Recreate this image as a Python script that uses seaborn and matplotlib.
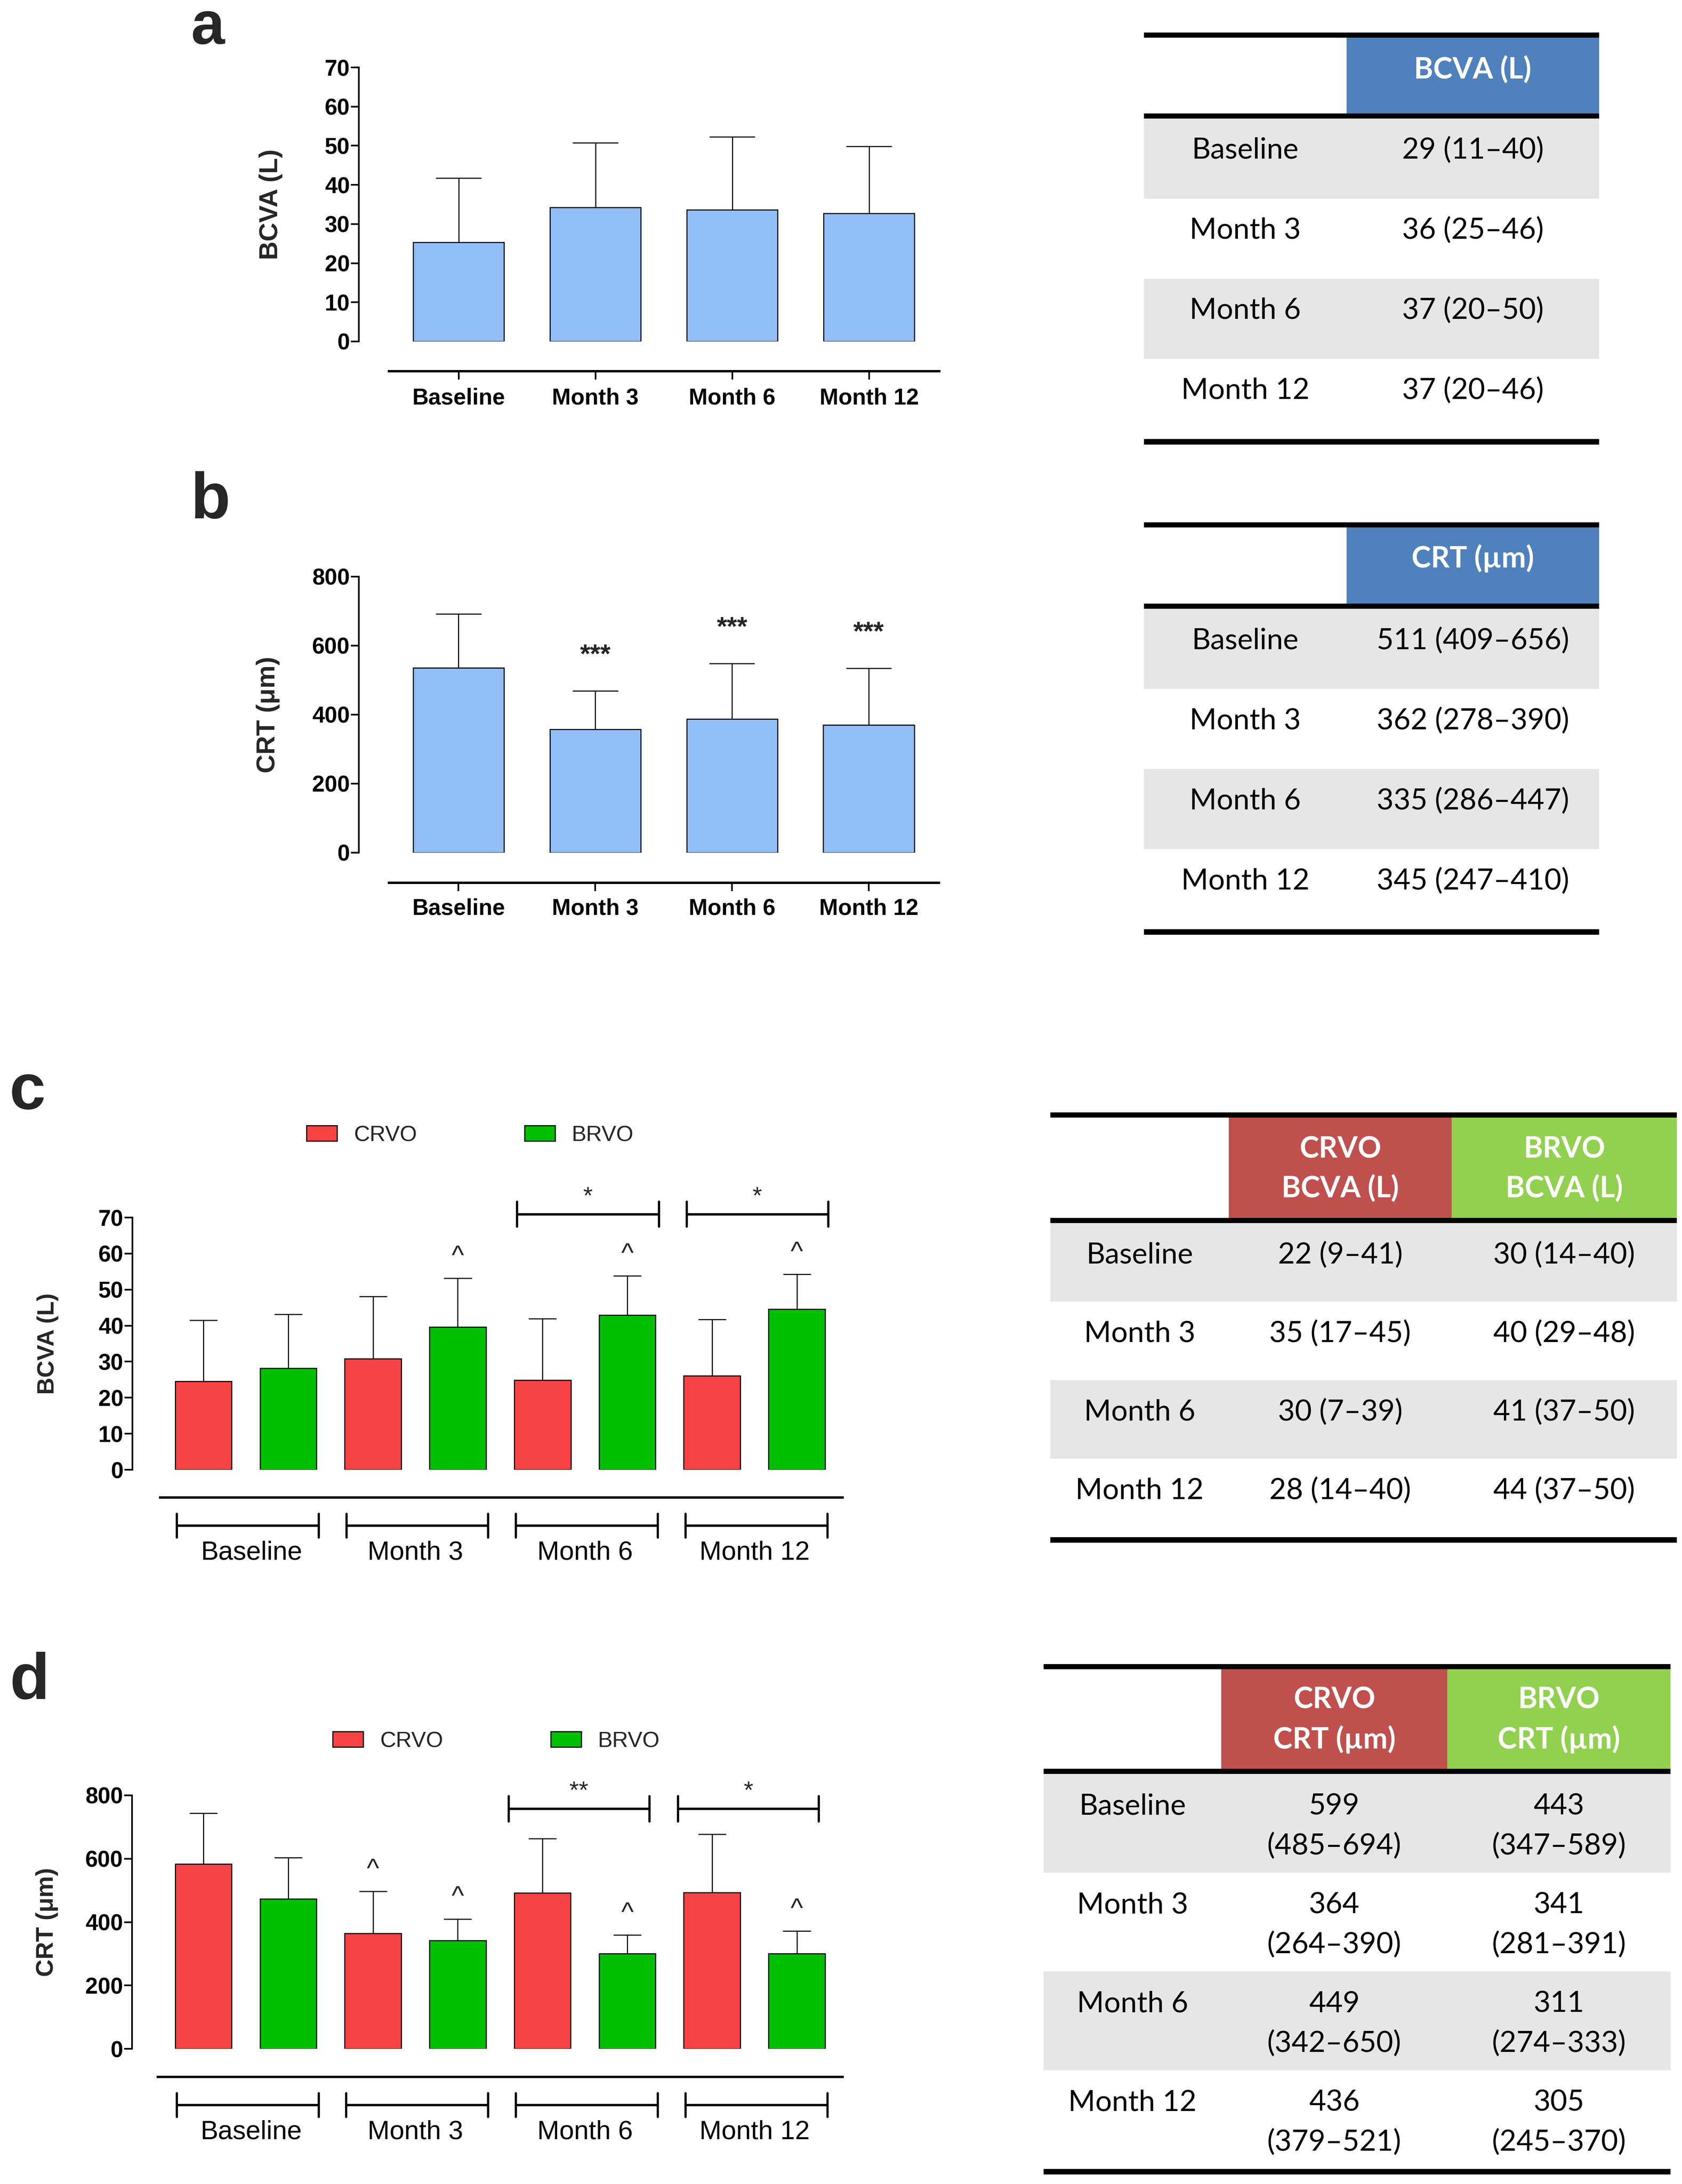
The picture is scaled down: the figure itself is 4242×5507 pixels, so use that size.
import matplotlib
matplotlib.use("Agg")
import matplotlib.pyplot as plt
import numpy as np
import pandas as pd
import seaborn as sns
from matplotlib.patches import Rectangle
from matplotlib.transforms import blended_transform_factory, ScaledTranslation

# ---------------- data ----------------
timepoints = ["Baseline", "Month 3", "Month 6", "Month 12"]
groups = ["CRVO", "BRVO"]

# a: all eyes, BCVA (mean and upper SD)
bcva_mean = [25.3, 34.2, 33.6, 32.7]
bcva_sd = [16.4, 16.6, 18.7, 17.1]

# b: all eyes, CRT
crt_mean = [536, 357, 387, 370]
crt_sd = [156, 112, 161, 164]
crt_marks = ["", "***", "***", "***"]

# c: BCVA by occlusion type
crvo_bcva_mean = [24.5, 30.8, 24.9, 26.1]
crvo_bcva_sd = [17.0, 17.3, 17.0, 15.6]
brvo_bcva_mean = [28.2, 39.6, 42.9, 44.6]
brvo_bcva_sd = [14.9, 13.6, 10.9, 9.7]
crvo_bcva_marks = ["", "", "", ""]
brvo_bcva_marks = ["", "^", "^", "^"]
bcva_between = ["", "", "*", "*"]
bcva_between_y = 70.9

# d: CRT by occlusion type
crvo_crt_mean = [583, 364, 492, 493]
crvo_crt_sd = [161, 133, 172, 184]
brvo_crt_mean = [473, 342, 301, 301]
brvo_crt_sd = [131, 68, 58, 71]
crvo_crt_marks = ["", "^", "", ""]
brvo_crt_marks = ["", "^", "^", "^"]
crt_between = ["", "", "**", "*"]
crt_between_y = 757

# tables: median (IQR)
table_a_cells = ["29 (11–40)", "36 (25–46)", "37 (20–50)", "37 (20–46)"]
table_b_cells = ["511 (409–656)", "362 (278–390)", "335 (286–447)", "345 (247–410)"]
table_c_crvo = ["22 (9–41)", "35 (17–45)", "30 (7–39)", "28 (14–40)"]
table_c_brvo = ["30 (14–40)", "40 (29–48)", "41 (37–50)", "44 (37–50)"]
table_d_crvo = ["599\n(485–694)", "364\n(264–390)", "449\n(342–650)", "436\n(379–521)"]
table_d_brvo = ["443\n(347–589)", "341\n(281–391)", "311\n(274–333)", "305\n(245–370)"]

# ---------------- style ----------------
W, H = 4242, 5507
LIGHT_BLUE = "#92BFF8"
BAR_RED = "#F74343"
BAR_GREEN = "#00BE00"
TAB_BLUE = "#4F81BD"
TAB_RED = "#C0504D"
TAB_GREEN = "#92D050"
TAB_GREY = "#E7E6E6"

sns.set_style("white")
plt.rcParams["font.family"] = ["Liberation Sans", "DejaVu Sans"]
TABLE_FONT = ["Lato", "DejaVu Sans"]
TAB_FS = 53

fig = plt.figure(figsize=(W / 100, H / 100), dpi=100)
fig.patch.set_facecolor("white")

canvas = fig.add_axes([0, 0, 1, 1])
canvas.set_xlim(0, W)
canvas.set_ylim(H, 0)
canvas.axis("off")


def px_axes(left, top, right, bottom):
    return fig.add_axes([left / W, 1 - bottom / H, (right - left) / W, (bottom - top) / H])


def px(v):
    # pixels -> points at 100 dpi
    return v * 0.72


def style_axes(ax, ylim, yticks, xlim, line_start, line_off, ylabel, ylabel_x, ylabel_fs):
    ax.set_xlim(xlim)
    ax.set_ylim(ylim)
    ax.set_yticks(yticks)
    ax.set_facecolor("none")
    for s in ["top", "right"]:
        ax.spines[s].set_visible(False)
    ax.spines["left"].set_linewidth(3.0)
    ax.spines["left"].set_color("black")
    ax.spines["bottom"].set_color("black")
    ax.spines["bottom"].set_position(("outward", px(line_off)))
    ax.spines["bottom"].set_bounds(line_start, xlim[1])
    ax.spines["bottom"].set_linewidth(4.3)
    ax.tick_params(axis="y", direction="out", length=14.5, width=3.0, pad=2,
                   labelsize=41, left=True, colors="black")
    for lbl in ax.get_yticklabels():
        lbl.set_fontweight("bold")
    ax.set_xlabel("")
    ax.set_ylabel(ylabel, fontsize=ylabel_fs, fontweight="bold")
    ax.yaxis.set_label_coords(ylabel_x, 0.5)


def draw_sd(ax, xs, means, sds, cap_half):
    xs = np.asarray(xs, dtype=float)
    tops = np.add(means, sds)
    ax.vlines(xs, means, tops, color="black", lw=1.9, zorder=3)
    ax.hlines(tops, xs - cap_half, xs + cap_half, color="black", lw=1.9, zorder=3)


def draw_marks(ax, xs, means, sds, marks, offset, fs, weight):
    tops = np.add(means, sds)
    for x, t, m in zip(xs, tops, marks):
        if m:
            ax.annotate(m, xy=(x, t), xytext=(0, offset), textcoords="offset points",
                        ha="center", va="baseline", fontsize=fs, fontweight=weight,
                        annotation_clip=False)


def draw_between(ax, marks, y, lo, hi, half_h):
    for i, m in enumerate(marks):
        if not m:
            continue
        x0, x1 = i + lo, i + hi
        ax.plot([x0, x1], [y, y], color="black", lw=4.3, clip_on=False, solid_capstyle="butt")
        for xe in (x0, x1):
            ax.plot([xe, xe], [y - half_h, y + half_h], color="black", lw=4.0, clip_on=False)
        ax.annotate(m, xy=((x0 + x1) / 2, y), xytext=(0, 20), textcoords="offset points",
                    ha="center", va="baseline", fontsize=44, annotation_clip=False)


def draw_group_brackets(ax, n, lo, hi, yb, half_h):
    trans = blended_transform_factory(ax.transData, ax.transAxes)
    for i in range(n):
        ax.plot([i + lo, i + hi], [yb, yb], color="black", lw=4.3, transform=trans,
                clip_on=False, solid_capstyle="butt")
        for xe in (i + lo, i + hi):
            ax.plot([xe, xe], [yb - half_h, yb + half_h], color="black", lw=4.0,
                    transform=trans, clip_on=False)


# ---------------- panel a ----------------
ax_a = px_axes(905, 170, 2369, 861)
df_a = pd.DataFrame({"time": timepoints, "bcva": bcva_mean})
sns.barplot(df_a, x="time", y="bcva", color=LIGHT_BLUE, saturation=1, width=0.665,
            edgecolor="black", linewidth=1.9, errorbar=None, ax=ax_a)
draw_sd(ax_a, range(4), bcva_mean, bcva_sd, 0.166)
style_axes(ax_a, (0, 70), range(0, 71, 10), (-0.729, 3.514), -0.509, 75,
           "BCVA (L)", -0.131, 47)
ax_a.tick_params(axis="x", direction="out", length=15, width=3.0, pad=15, labelsize=41,
                 bottom=True, colors="black")
for lbl in ax_a.get_xticklabels():
    lbl.set_fontweight("bold")

# ---------------- panel b ----------------
ax_b = px_axes(905, 1454, 2368, 2150)
df_b = pd.DataFrame({"time": timepoints, "crt": crt_mean})
sns.barplot(df_b, x="time", y="crt", color=LIGHT_BLUE, saturation=1, width=0.665,
            edgecolor="black", linewidth=1.9, errorbar=None, ax=ax_b)
draw_sd(ax_b, range(4), crt_mean, crt_sd, 0.166)
draw_marks(ax_b, range(4), crt_mean, crt_sd, crt_marks, 52, 48, "bold")
style_axes(ax_b, (0, 800), range(0, 801, 200), (-0.729, 3.513), -0.51, 76,
           "CRT (μm)", -0.136, 47)
ax_b.tick_params(axis="x", direction="out", length=15, width=3.0, pad=13, labelsize=41,
                 bottom=True, colors="black")
for lbl in ax_b.get_xticklabels():
    lbl.set_fontweight("bold")


# ---------------- panels c, d ----------------
def grouped_panel(box, crvo_mean, crvo_sd, brvo_mean, brvo_sd, crvo_marks, brvo_marks,
                  between, between_y, between_lo, between_hi, between_h,
                  ylim, yticks, xlim, line_start, line_off, ylabel, ylabel_fs, legend_xy):
    ax = px_axes(*box)
    df = pd.DataFrame({
        "time": timepoints * 2,
        "group": [groups[0]] * 4 + [groups[1]] * 4,
        "value": list(crvo_mean) + list(brvo_mean),
    })
    sns.barplot(df, x="time", y="value", hue="group", hue_order=groups,
                palette=[BAR_RED, BAR_GREEN], saturation=1, width=1.0, gap=0.333,
                edgecolor="black", linewidth=1.9, errorbar=None, ax=ax)
    xc = np.arange(4) - 0.25
    xb = np.arange(4) + 0.25
    draw_sd(ax, xc, crvo_mean, crvo_sd, 0.082)
    draw_sd(ax, xb, brvo_mean, brvo_sd, 0.082)
    draw_marks(ax, xc, crvo_mean, crvo_sd, crvo_marks, 26, 48, "normal")
    draw_marks(ax, xb, brvo_mean, brvo_sd, brvo_marks, 26, 48, "normal")
    draw_between(ax, between, between_y, between_lo, between_hi, between_h)
    style_axes(ax, ylim, yticks, xlim, line_start, line_off, ylabel, -0.104, ylabel_fs)
    ax.tick_params(axis="x", length=0, pad=78, labelsize=48, colors="black")
    # the first group label sits a little right of its bracket centre
    first = ax.get_xticklabels()[0]
    first.set_transform(first.get_transform() + ScaledTranslation(0.14, 0, fig.dpi_scale_trans))
    draw_group_brackets(ax, 4, -0.407, 0.43, -0.2217, 0.047)

    handles, labels = ax.get_legend_handles_labels()
    for h in handles:
        h.set_edgecolor("black")
        h.set_linewidth(2.0)
    ax.legend(handles, labels, loc="center left",
              bbox_to_anchor=(legend_xy[0] / W, 1 - legend_xy[1] / H),
              bbox_transform=fig.transFigure, ncol=2, frameon=False, fontsize=40,
              handlelength=1.385, handleheight=0.7, handletextpad=0.755, columnspacing=4.89,
              borderpad=0, borderaxespad=0)
    return ax


ax_c = grouped_panel((334, 3070, 2125, 3706), crvo_bcva_mean, crvo_bcva_sd, brvo_bcva_mean,
                     brvo_bcva_sd, crvo_bcva_marks, brvo_bcva_marks, bcva_between, bcva_between_y,
                     -0.40, 0.436, 3.45, (0, 70), range(0, 71, 10), (-0.669, 3.52), -0.505, 70,
                     "BCVA (L)", 43, (773, 2863))
ax_d = grouped_panel((333, 4527, 2125, 5166), crvo_crt_mean, crvo_crt_sd, brvo_crt_mean,
                     brvo_crt_sd, crvo_crt_marks, brvo_crt_marks, crt_between, crt_between_y,
                     -0.45, 0.38, 40, (0, 800), range(0, 801, 200), (-0.671, 3.52), -0.519, 71,
                     "CRT (μm)", 44, (839, 4391))

# ---------------- panel letters ----------------
# "a" sits at the very top edge: slightly smaller and lower so its text box stays inside
letters = ["a", "b", "c", "d"]
letter_pos = [(482, 111, 110), (480, 1307, 118), (24, 2796, 118), (24, 4284, 118)]
for letter, (lx, ly, fs) in zip(letters, letter_pos):
    canvas.text(lx, ly, letter, fontsize=fs, fontweight="bold", ha="left", va="baseline")


# ---------------- tables ----------------
def ttext(x, y_center, s, bold=False, color="black"):
    em = TAB_FS / 0.72
    canvas.text(x, y_center + 0.35 * em, s, fontsize=TAB_FS, family=TABLE_FONT,
                fontweight="bold" if bold else "normal", color=color,
                ha="center", va="baseline")


def draw_table(rule_top, cols, header_h, row_h, header_fills, header_lines, header_offs,
               row_labels, columns, row_offs):
    rule = 13
    left, right = cols[0], cols[-1]
    canvas.add_patch(Rectangle((left, rule_top), right - left, rule, color="black", lw=0))
    htop = rule_top + rule
    for j, fill in enumerate(header_fills):
        canvas.add_patch(Rectangle((cols[j + 1], htop), cols[j + 2] - cols[j + 1], header_h,
                                   color=fill, lw=0))
        for line, off in zip(header_lines[j], header_offs):
            ttext((cols[j + 1] + cols[j + 2]) / 2, htop + off, line, bold=True, color="white")
    mid = htop + header_h
    canvas.add_patch(Rectangle((left, mid), right - left, rule, color="black", lw=0))
    rtop = mid + rule
    for i, lab in enumerate(row_labels):
        y0 = rtop + i * row_h
        if i % 2 == 0:
            canvas.add_patch(Rectangle((left, y0), right - left, row_h, color=TAB_GREY, lw=0))
        ttext((cols[0] + cols[1]) / 2, y0 + row_offs[0], lab)
        for j, col in enumerate(columns):
            for line, off in zip(col[i].split("\n"), row_offs):
                ttext((cols[j + 1] + cols[j + 2]) / 2, y0 + off, line)
    bottom = rtop + len(row_labels) * row_h
    canvas.add_patch(Rectangle((left, bottom), right - left, rule + 1, color="black", lw=0))


draw_table(82, [2885, 3396, 4033], 191, 202, [TAB_BLUE], [["BCVA (L)"]], [77],
           timepoints, [table_a_cells], [75])
draw_table(1317, [2885, 3396, 4033], 192, 202, [TAB_BLUE], [["CRT (µm)"]], [75],
           timepoints, [table_b_cells], [76])
draw_table(2805, [2649, 3099, 3661, 4229], 253, 198, [TAB_RED, TAB_GREEN],
           [["CRVO", "BCVA (L)"], ["BRVO", "BCVA (L)"]], [76, 175],
           timepoints, [table_c_crvo, table_c_brvo], [76])
draw_table(4196, [2632, 3080, 3650, 4213], 251, 249, [TAB_RED, TAB_GREEN],
           [["CRVO", "CRT (µm)"], ["BRVO", "CRT (µm)"]], [73, 174],
           timepoints, [table_d_crvo, table_d_brvo], [77, 177])

fig.savefig("out.png", dpi=100, facecolor="white")
